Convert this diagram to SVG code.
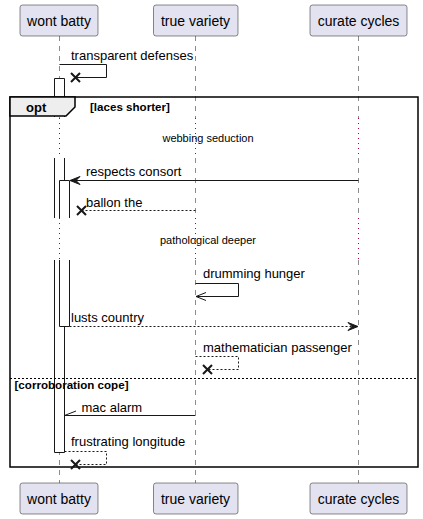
<svg xmlns="http://www.w3.org/2000/svg" width="423" height="519" viewBox="0 0 423 519">
<defs>
<style>
text{font-family:"Liberation Sans",Arial,sans-serif;fill:#000}
.pbox{fill:#E2E2F0;stroke:#181818;stroke-width:0.5}
.pname{font-size:14px;text-anchor:middle}
.life{stroke:#181818;stroke-width:0.5;stroke-dasharray:5,5;fill:none}
.delay{stroke:#A80036;stroke-width:1;stroke-dasharray:1,4;fill:none}
.msg{font-size:13px}
.solid{stroke:#181818;stroke-width:1;fill:none}
.dash{stroke:#181818;stroke-width:1;stroke-dasharray:2,2;fill:none}
.bar{fill:#fff;stroke:none}
.barl{stroke:#181818;stroke-width:1;fill:none}
.x{stroke:#181818;stroke-width:2;fill:none}
.head{fill:#181818;stroke:#181818;stroke-width:1}
.dtext{font-size:11px;text-anchor:middle}
.guard{font-size:11.6px;font-weight:bold}
</style>
</defs>
<g id="lifelines">
<line class="life" x1="59.5" y1="36" x2="59.5" y2="118"/>
<line class="delay" x1="59.5" y1="118" x2="59.5" y2="158"/>
<line class="life" x1="59.5" y1="158" x2="59.5" y2="218"/>
<line class="delay" x1="59.5" y1="218" x2="59.5" y2="260"/>
<line class="life" x1="59.5" y1="260" x2="59.5" y2="483"/>
<line class="life" x1="195.5" y1="36" x2="195.5" y2="118"/>
<line class="delay" x1="195.5" y1="118" x2="195.5" y2="158"/>
<line class="life" x1="195.5" y1="158" x2="195.5" y2="218"/>
<line class="delay" x1="195.5" y1="218" x2="195.5" y2="260"/>
<line class="life" x1="195.5" y1="260" x2="195.5" y2="483"/>
<line class="life" x1="358.5" y1="36" x2="358.5" y2="118"/>
<line class="delay" x1="358.5" y1="118" x2="358.5" y2="158"/>
<line class="life" x1="358.5" y1="158" x2="358.5" y2="218"/>
<line class="delay" x1="358.5" y1="218" x2="358.5" y2="260"/>
<line class="life" x1="358.5" y1="260" x2="358.5" y2="483"/>
</g>
<g id="activations">
<rect class="bar" x="54.5" y="78" width="10" height="39"/>
<path class="barl" d="M54.5,117 V78.5 H64.5 V117"/>
<rect class="bar" x="54.5" y="158" width="10" height="60"/>
<path class="barl" d="M54.5,158 V218 M64.5,158 V218"/>
<rect class="bar" x="54.5" y="260" width="10" height="192"/>
<path class="barl" d="M54.5,260 V452.5 H64.5 V260"/>
<rect class="bar" x="59.5" y="180" width="10" height="38"/>
<path class="barl" d="M59.5,218 V180.5 H69.5 V218"/>
<rect class="bar" x="59.5" y="260" width="10" height="66"/>
<path class="barl" d="M59.5,260 V326.5 H69.5 V260"/>
</g>
<g id="frame">
<rect x="10" y="97" width="408" height="370" fill="none" stroke="#000" stroke-width="1.5"/>
<polygon points="10,97 75,97 75,107 66,116 10,116" fill="#EEEEEE" stroke="#000" stroke-width="1.5"/>
<text x="26" y="111.5" style="font-size:13px;font-weight:bold">opt</text>
<text class="guard" x="90" y="110.5">[laces shorter]</text>
<line x1="10" y1="378.5" x2="418" y2="378.5" stroke="#000" stroke-width="1" stroke-dasharray="2,2"/>
<text class="guard" x="14.5" y="389">[corroboration cope]</text>
</g>
<g id="connectors">
<path class="solid" d="M59.5,64.5 H106.5 V77.5 H76"/>
<path class="x" d="M71,73 L80,82 M80,73 L71,82"/>
<text class="msg" x="71" y="60">transparent defenses</text>
<text class="dtext" x="208" y="142">webbing seduction</text>
<line class="solid" x1="358.5" y1="180.5" x2="70" y2="180.5"/>
<polygon class="head" points="70,180.5 80,176.5 76,180.5 80,184.5"/>
<text class="msg" x="86" y="176">respects consort</text>
<line class="dash" x1="195.5" y1="210.5" x2="82" y2="210.5"/>
<path class="x" d="M77,206 L86,215 M86,206 L77,215"/>
<text class="msg" x="86" y="206.5">ballon the</text>
<text class="dtext" x="208" y="244">pathological deeper</text>
<path class="solid" d="M195.5,283.5 H238.5 V296.5 H196"/>
<polyline class="solid" points="206,292.5 196,296.5 206,300.5"/>
<text class="msg" x="203" y="277.5">drumming hunger</text>
<line class="dash" x1="69.5" y1="326.5" x2="357" y2="326.5"/>
<polygon class="head" points="358,326.5 348,322.5 352,326.5 348,330.5"/>
<text class="msg" x="71" y="322">lusts country</text>
<path class="dash" d="M195.5,356.5 H238.5 V369.5 H208"/>
<path class="x" d="M203,365 L212,374 M212,365 L203,374"/>
<text class="msg" x="203" y="352">mathematician passenger</text>
<line class="solid" x1="195.5" y1="415.5" x2="64.5" y2="415.5"/>
<line class="solid" x1="64.5" y1="415.5" x2="76" y2="411"/>
<text class="msg" x="81.5" y="411.5">mac alarm</text>
<path class="dash" d="M64.5,451.5 H106.5 V464.5 H76"/>
<path class="x" d="M71,460 L80,469 M80,460 L71,469"/>
<text class="msg" x="71" y="446">frustrating longitude</text>
</g>
<g id="p-wont-batty">
<rect class="pbox" x="20" y="5" width="78" height="31" rx="2.5"/>
<text class="pname" x="59" y="26">wont batty</text>
<rect class="pbox" x="20" y="483" width="78" height="31" rx="2.5"/>
<text class="pname" x="59" y="504">wont batty</text>
</g>
<g id="p-true-variety">
<rect class="pbox" x="153.5" y="5" width="84.5" height="31" rx="2.5"/>
<text class="pname" x="195.5" y="26">true variety</text>
<rect class="pbox" x="153.5" y="483" width="84.5" height="31" rx="2.5"/>
<text class="pname" x="195.5" y="504">true variety</text>
</g>
<g id="p-curate-cycles">
<rect class="pbox" x="310" y="5" width="97" height="31" rx="2.5"/>
<text class="pname" x="358.5" y="26">curate cycles</text>
<rect class="pbox" x="310" y="483" width="97" height="31" rx="2.5"/>
<text class="pname" x="358.5" y="504">curate cycles</text>
</g>
</svg>
